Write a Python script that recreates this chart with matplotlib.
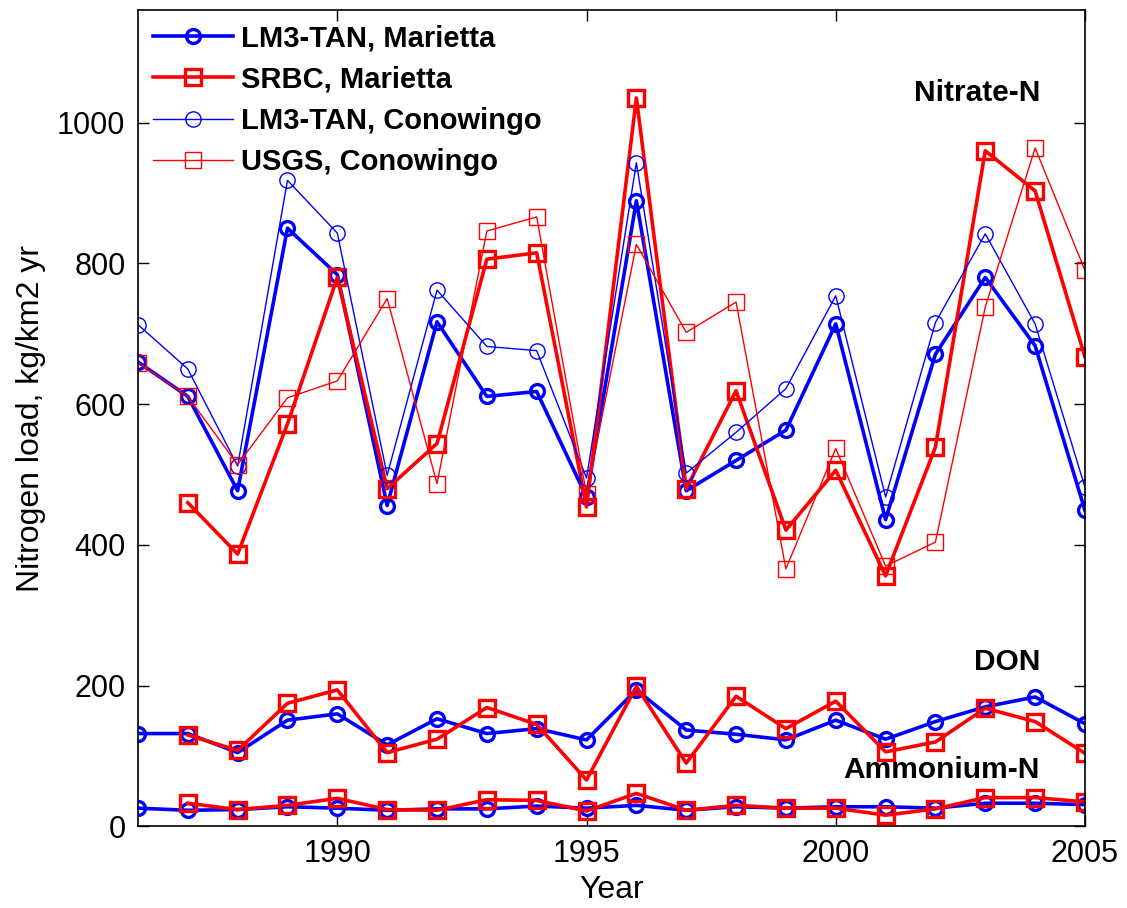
import numpy as np
import matplotlib.pyplot as plt

plt.rcParams['font.family'] = ['Liberation Sans Narrow', 'Liberation Sans', 'DejaVu Sans']

years = np.arange(1986, 2006)
nan = np.nan

# nitrate-N, kg/km2 yr
no3_lm3_mar = [660, 611, 477, 850, 784, 456, 717, 611, 618, 468, 889, 477, 520, 563, 714, 436, 671, 780, 683, 449]
no3_srbc_mar = [nan, 460, 387, 572, 780, 480, 544, 806, 815, 454, 1035, 480, 619, 421, 506, 356, 539, 960, 903, 667]
no3_lm3_con = [713, 650, 512, 918, 843, 499, 762, 682, 676, 495, 943, 502, 560, 622, 754, 468, 716, 842, 714, 482]
no3_usgs_con = [659, 611, 514, 609, 633, 750, 487, 846, 866, 472, 827, 702, 745, 366, 537, 370, 404, 738, 964, 790]

# DON
don_lm3_mar = [132, 132, 105, 151, 160, 116, 153, 132, 139, 123, 194, 137, 131, 123, 151, 124, 149, 170, 184, 146]
don_srbc_mar = [nan, 130, 108, 175, 194, 105, 124, 169, 145, 66, 199, 90, 185, 139, 178, 106, 120, 168, 149, 104]

# ammonium-N
nh4_lm3_mar = [26, 23, 24, 28, 26, 23, 25, 25, 29, 26, 30, 23, 28, 26, 28, 28, 26, 33, 33, 31]
nh4_srbc_mar = [nan, 33, 24, 30, 40, 24, 23, 38, 37, 22, 47, 23, 30, 26, 26, 16, 25, 41, 41, 35]

fig = plt.figure(figsize=(11.27, 9.08), dpi=100)
ax = fig.add_axes([0.1224, 0.0898, 0.8403, 0.8992])

thick_blue = dict(color="blue", lw=2.6, marker="o", markersize=10, mew=2.4, mfc="none")
thick_red = dict(color="red", lw=2.6, marker="s", markersize=12, mew=2.4, mfc="none")
thin_blue = dict(color="blue", lw=1.0, marker="o", markersize=11, mew=1.0, mfc="none")
thin_red = dict(color="red", lw=1.0, marker="s", markersize=12, mew=1.0, mfc="none")

ax.plot(years, no3_lm3_mar, label="LM3-TAN, Marietta", **thick_blue)
ax.plot(years, no3_srbc_mar, label="SRBC, Marietta", **thick_red)
ax.plot(years, no3_lm3_con, label="LM3-TAN, Conowingo", **thin_blue)
ax.plot(years, no3_usgs_con, label="USGS, Conowingo", **thin_red)

ax.plot(years, don_lm3_mar, **thick_blue)
ax.plot(years, don_srbc_mar, **thick_red)
ax.plot(years, nh4_lm3_mar, **thick_blue)
ax.plot(years, nh4_srbc_mar, **thick_red)

bold = dict(family=['Liberation Sans', 'DejaVu Sans'], fontsize=21.5, fontweight="bold", ha="right", va="center")
ax.text(2004.1, 1042, "Nitrate-N", **bold)
ax.text(2004.1, 233, "DON", **bold)
ax.text(2004.1, 80, "Ammonium-N", **bold)

ax.set_xlim(1986, 2005)
ax.set_ylim(0, 1160)
ax.set_xticks([1990, 1995, 2000, 2005])
ax.set_yticks([0, 200, 400, 600, 800, 1000])
ax.tick_params(direction="in", length=8, width=1, labelsize=22, top=True, right=True, pad=9)
ax.set_xlabel("Year", fontsize=23, labelpad=4)
ax.set_ylabel("Nitrogen load, kg/km2 yr", fontsize=23, labelpad=8)
for s in ax.spines.values():
    s.set_linewidth(1.2)

leg = ax.legend(loc="upper left", frameon=False, prop=dict(family=['Liberation Sans', 'DejaVu Sans'], size=21, weight="bold"),
                handlelength=2.75, handletextpad=0.3, labelspacing=0.45, borderaxespad=0.1)

fig.savefig("out.png", dpi=100)
